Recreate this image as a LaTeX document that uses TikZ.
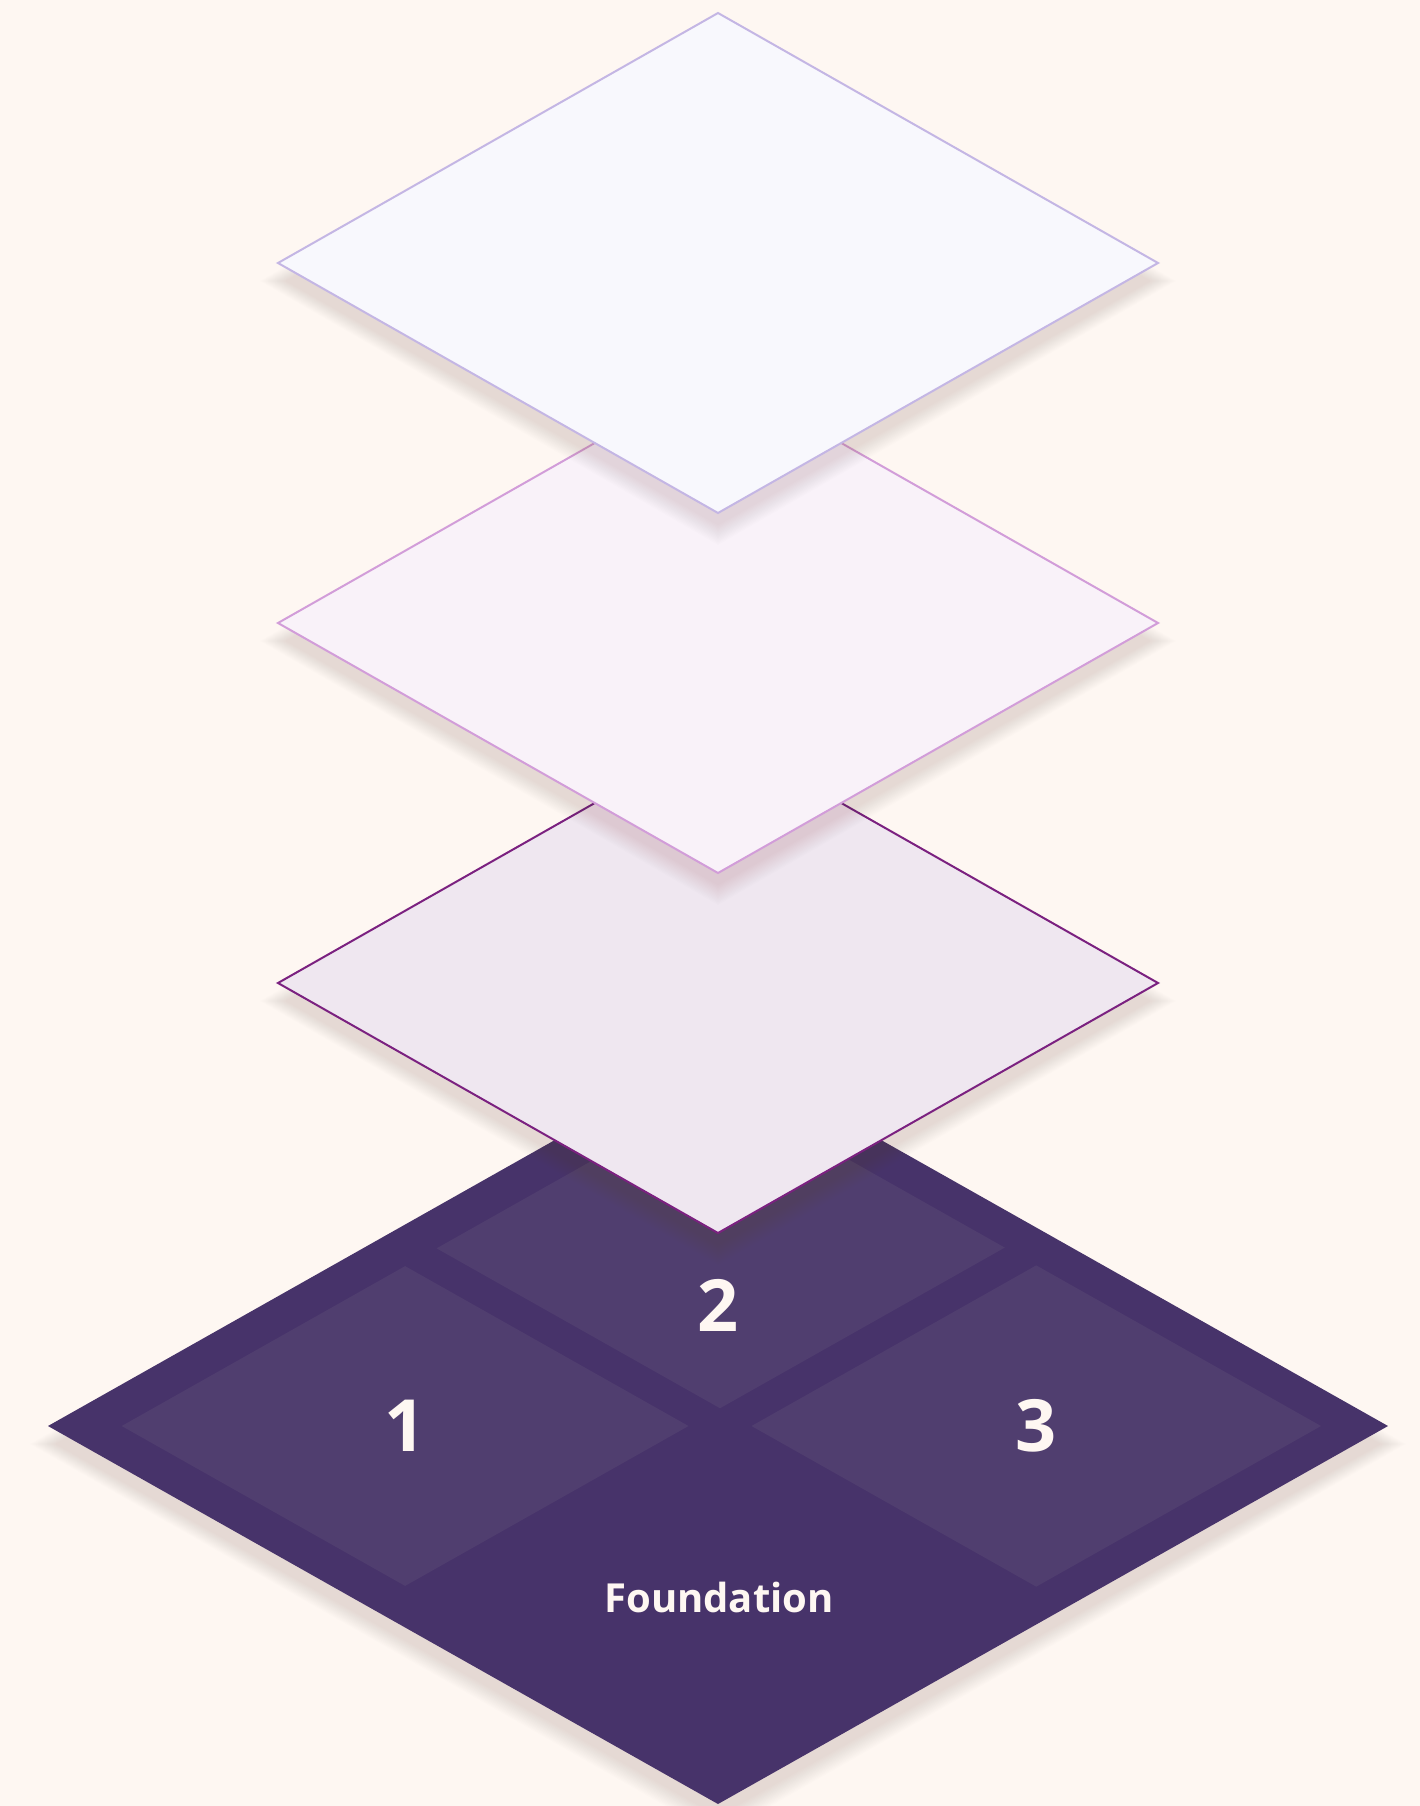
\documentclass[tikz,border=0pt]{standalone}
\usepackage{fontspec}
\setmainfont{Open Sans}
\definecolor{bg}{HTML}{FEF7F2}
\definecolor{shadowc}{HTML}{6B4A3A}
\definecolor{topfill}{HTML}{F8F8FD}
\definecolor{topline}{HTML}{C4B6E4}
\definecolor{midfill}{HTML}{F9F2F9}
\definecolor{midline}{HTML}{D29DD9}
\definecolor{lowfill}{HTML}{EFE7F0}
\definecolor{lowline}{HTML}{7B2180}
\definecolor{basefill}{HTML}{47336A}
\definecolor{tilefill}{HTML}{503E6F}
\definecolor{labelc}{HTML}{FEF7F2}
\newcommand\diapath[4]{({#1-(#3)},{#2}) -- ({#1},{#2-(#4)}) -- ({#1+(#3)},{#2}) -- ({#1},{#2+(#4)}) -- cycle}
\newcommand\bp[2]{({48+670*((#1)+(#2))},{1426+378*((#2)-(#1))})}
\newcommand\layershadow[4]{%
  \foreach \r in {-8,-6,...,20}{\fill[shadowc, fill opacity=0.009] \diapath{#1}{#2+18}{#3+\r*0.9}{#4+\r*0.7};}}
\begin{document}
\begin{tikzpicture}[x=1pt,y=-1pt,
  layer/.style={line width=2pt, line join=miter},
  tile/.style={fill=tilefill},
  num/.style={text=labelc, font=\fontsize{72}{80}\selectfont\bfseries, inner sep=0pt},
  found/.style={text=labelc, font=\fontsize{40}{46}\selectfont\bfseries, inner sep=0pt}]
\fill[bg] (0,0) rectangle (1420,1806);
\useasboundingbox (0,0) rectangle (1420,1806);
% base
\layershadow{718}{1426}{670}{378}
\fill[basefill] \diapath{718}{1426}{670}{378};
\fill[tile] \bp{0.055}{0.055} -- \bp{0.478}{0.055} -- \bp{0.478}{0.478} -- \bp{0.055}{0.478} -- cycle;
\fill[tile] \bp{0.525}{0.055} -- \bp{0.95}{0.055} -- \bp{0.95}{0.478} -- \bp{0.525}{0.478} -- cycle;
\fill[tile] \bp{0.525}{0.525} -- \bp{0.95}{0.525} -- \bp{0.95}{0.95} -- \bp{0.525}{0.95} -- cycle;
\node[num] (n1) at \bp{0.2665}{0.2665} {1};
\node[num] (n2) at (718,1305) {2};
\node[num] (n3) at \bp{0.7375}{0.7375} {3};
\node[found] (fnd) at (719,1597) {Foundation};
% lower layer
\layershadow{718}{983}{440}{250}
\filldraw[layer, fill=lowfill, draw=lowline] \diapath{718}{983}{440}{250};
% middle layer
\layershadow{718}{623}{440}{250}
\filldraw[layer, fill=midfill, draw=midline] \diapath{718}{623}{440}{250};
% top layer
\layershadow{718}{263}{440}{250}
\filldraw[layer, fill=topfill, draw=topline] \diapath{718}{263}{440}{250};
\end{tikzpicture}
\end{document}
